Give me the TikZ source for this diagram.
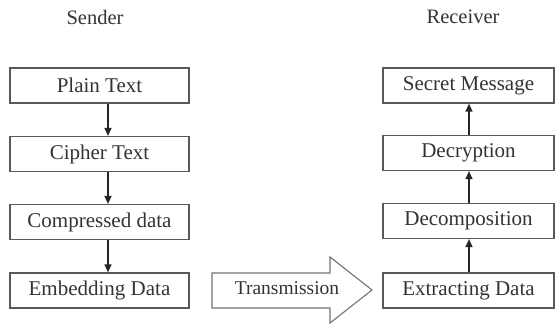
\documentclass[tikz,border=0pt]{standalone}
\usepackage{fontspec}
\setmainfont{Liberation Serif}
\newfontfamily\boxfont{Liberation Serif}
\usetikzlibrary{arrows.meta}
\begin{document}
\begin{tikzpicture}[x=1pt,y=-1pt,
  stepbox/.style={draw=black!65,line width=1.2pt,minimum height=35pt,inner sep=0pt,
     font=\boxfont\fontsize{21}{24}\selectfont,text=black!80},
  lbox/.style={stepbox,minimum width=179pt},
  rbox/.style={stepbox,minimum width=171pt},
  title/.style={font=\boxfont\fontsize{20.5}{24}\selectfont,text=black!80},
  flow/.style={draw=black!85,line width=1.3pt,-{Triangle[width=7pt,length=8pt]}}]
\useasboundingbox (0,0) rectangle (560,326);
\node[title] (sender) at (95,17) {Sender};
\node[title] (receiver) at (463,17) {Receiver};
\node[lbox] (plain) at (99.5,85.5) {Plain Text};
\node[lbox] (cipher) at (99.5,154) {Cipher Text};
\node[lbox] (comp) at (99.5,222) {Compressed data};
\node[lbox] (embed) at (99.5,290.5) {Embedding Data};
\node[rbox] (secret) at (468.5,85.5) {Secret Message};
\node[rbox] (decr) at (468.5,153) {Decryption};
\node[rbox] (decomp) at (468.5,221) {Decomposition};
\node[rbox] (extr) at (468.5,290.5) {Extracting Data};
\draw[flow] ([xshift=8.5pt]plain.south) -- ([xshift=8.5pt]cipher.north);
\draw[flow] ([xshift=8.5pt]cipher.south) -- ([xshift=8.5pt]comp.north);
\draw[flow] ([xshift=8.5pt]comp.south) -- ([xshift=8.5pt]embed.north);
\draw[flow] ([xshift=0.5pt]extr.north) -- ([xshift=0.5pt]decomp.south);
\draw[flow] ([xshift=0.5pt]decomp.north) -- ([xshift=0.5pt]decr.south);
\draw[flow] ([xshift=0.5pt]decr.north) -- ([xshift=0.5pt]secret.south);
\draw[draw=black!55,line width=1.1pt,fill=white,line join=miter]
  (212,273) -- (330,273) -- (330,257) -- (372,290) -- (330,323) -- (330,308) -- (212,308) -- cycle;
\node[font=\boxfont\fontsize{19.5}{22}\selectfont,text=black!80] (trans) at (287,288) {Transmission};
\end{tikzpicture}
\end{document}
